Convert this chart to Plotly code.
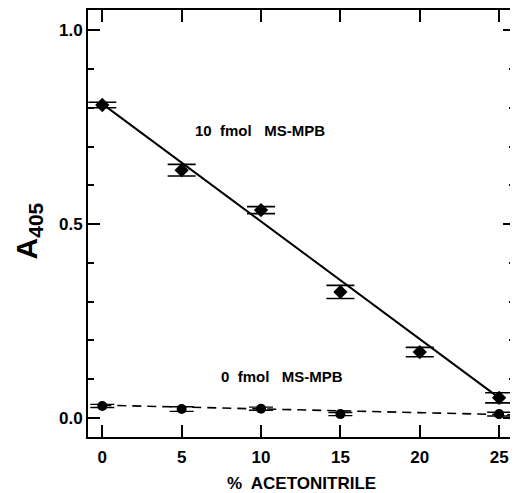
import plotly.graph_objects as go

acetonitrile = [0, 5, 10, 15, 20, 25]
a405_10fmol = [0.807, 0.639, 0.536, 0.325, 0.170, 0.052]
err_10fmol = [0.007, 0.015, 0.009, 0.017, 0.012, 0.013]
a405_0fmol = [0.031, 0.023, 0.024, 0.010, None, 0.010]
err_0fmol = [0.004, 0.006, 0.004, 0.004, 0, 0.005]

fit_10_x = [0, 25]
fit_10_y = [0.810, 0.052]
fit_0_x = [0, 26]
fit_0_y = [0.033, 0.008]

x_ticks = [0, 5, 10, 15, 20, 25]
y_ticks = [0.0, 0.5, 1.0]
y_ticklabels = ["0.0", "0.5", "1.0"]

font_main = "Liberation Sans, Arial, sans-serif"

fig = go.Figure()
fig.add_trace(go.Scatter(x=fit_10_x, y=fit_10_y, mode="lines",
                         line=dict(color="black", width=2), showlegend=False))
fig.add_trace(go.Scatter(x=fit_0_x, y=fit_0_y, mode="lines",
                         line=dict(color="black", width=1.6, dash="9px,6px"), showlegend=False))
fig.add_trace(go.Scatter(x=acetonitrile, y=a405_10fmol, mode="markers",
                         marker=dict(symbol="diamond", size=11, color="black"),
                         error_y=dict(type="data", array=err_10fmol, width=14,
                                      thickness=1.6, color="black"),
                         showlegend=False))
fig.add_trace(go.Scatter(x=acetonitrile, y=a405_0fmol, mode="markers",
                         marker=dict(symbol="circle", size=10, color="black"),
                         error_y=dict(type="data", array=err_0fmol, width=12,
                                      thickness=1.4, color="black"),
                         showlegend=False))

fig.add_annotation(x=9.95, y=0.742, text="<b>10  fmol   MS-MPB</b>", showarrow=False,
                   font=dict(family=font_main, size=15, color="black"))
fig.add_annotation(x=11.3, y=0.108, text="<b>0  fmol   MS-MPB</b>", showarrow=False,
                   font=dict(family=font_main, size=15, color="black"))
fig.add_annotation(xref="paper", yref="paper", x=-0.14, y=0.482,
                   xanchor="center", yanchor="middle", textangle=-90,
                   text="<b>A</b><sub><b>405</b></sub>",
                   showarrow=False,
                   font=dict(family=font_main, size=30, color="black"))

fig.update_layout(
    width=510, height=485,
    margin=dict(l=80, r=3, t=2, b=56, autoexpand=False),
    plot_bgcolor="white", paper_bgcolor="white",
    font=dict(family=font_main, color="black"),
    xaxis=dict(range=[-0.9, 26.0], tickvals=x_ticks, automargin=False,
               ticks="inside", ticklen=12, tickwidth=2, tickcolor="black",
               ticklabelstandoff=4,
               showline=True, linewidth=2, linecolor="black", mirror="ticks",
               showgrid=False, zeroline=False,
               tickfont=dict(size=17, family=font_main, weight="bold"),
               title=dict(text="%  ACETONITRILE", standoff=12,
                          font=dict(size=17, family=font_main, weight="bold"))),
    yaxis=dict(range=[-0.049, 1.052], tickvals=y_ticks, ticktext=y_ticklabels,
               automargin=False,
               ticks="inside", ticklen=12, tickwidth=2, tickcolor="black",
               showline=True, linewidth=2, linecolor="black", mirror="ticks",
               showgrid=False, zeroline=False,
               minor=dict(dtick=0.1, ticks="inside", ticklen=6, tickwidth=1.5,
                          tickcolor="black", showgrid=False),
               tickfont=dict(size=17, family=font_main, weight="bold")),
)

fig.write_html("out.html")
